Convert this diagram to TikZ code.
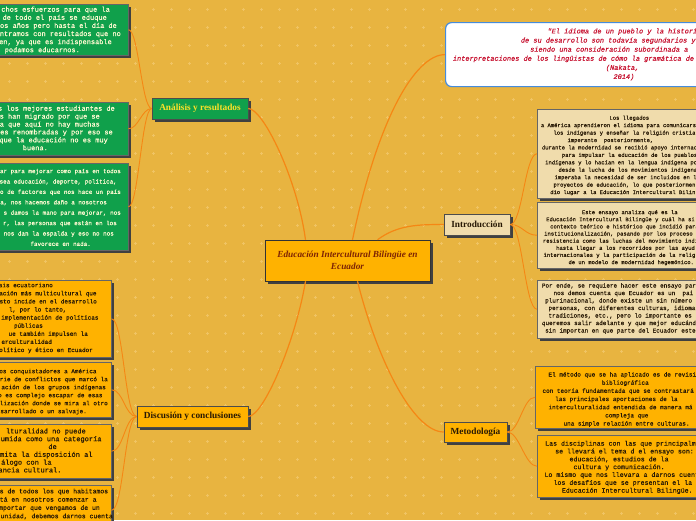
\documentclass[tikz,border=0pt]{standalone}
\usepackage{fontspec}
\setmainfont{Liberation Serif}
\newfontfamily\mono[FakeBold=0.5]{Liberation Mono}
\usetikzlibrary{shadows,calc}
\definecolor{bg}{RGB}{232,180,64}
\definecolor{bgdot}{RGB}{240,196,100}
\definecolor{lk}{RGB}{245,135,20}
\definecolor{gfill}{RGB}{16,160,75}
\definecolor{gtext}{RGB}{255,250,210}
\definecolor{ofill}{RGB}{255,178,0}
\definecolor{bfill}{RGB}{240,220,172}
\definecolor{dtext}{RGB}{40,25,5}
\definecolor{qred}{RGB}{200,20,50}
\definecolor{qblue}{RGB}{70,140,220}
\definecolor{ctext}{RGB}{125,35,5}
\definecolor{ytext}{RGB}{255,225,40}
\newcounter{tlc}
\newcommand\tE[4]{\stepcounter{tlc}\node[#1,anchor=base east] (t\arabic{tlc}) at (#2,#3) {#4};}
\newcommand\tW[4]{\stepcounter{tlc}\node[#1,anchor=base west] (t\arabic{tlc}) at (#2,#3) {#4};}
\begin{document}
\begin{tikzpicture}[x=1pt,y=-1pt,
  con/.style={draw=lk,line width=1.2pt},
  shad/.style={drop shadow={shadow xshift=2.5pt,shadow yshift=-2.5pt,fill=black!75,opacity=1}},
  leaf/.style={rectangle,anchor=north west,inner sep=0pt,shad,line width=0.5pt},
  gbox/.style={leaf,fill=gfill,draw=black!60},
  obox/.style={leaf,fill=ofill,draw=black!60},
  bbox/.style={leaf,fill=bfill,draw=black!60},
  mt/.style={inner sep=0pt,font=\mono\fontsize{#1}{#1}\selectfont},
  qt/.style={inner sep=0pt,text=qred,font=\mono\itshape\fontsize{6.93}{6.93}\selectfont},
  branch/.style={rectangle,inner sep=0pt,shad,draw=black!70,line width=0.5pt,font=\bfseries\fontsize{9.3}{11}\selectfont},
]
\clip (0,0) rectangle (696,520);
\fill[bg] (0,0) rectangle (696,520);
\foreach \x in {9,27,...,696} \foreach \y in {9,27,...,520}
  {\draw[bgdot,line width=0.5pt] (\x-1.5,\y)--(\x+1.5,\y) (\x,\y-1.5)--(\x,\y+1.5);}

% central and branch nodes
\node[branch,fill=ofill,draw=black!80,minimum width=165pt,minimum height=41pt,align=center,text=ctext,font=\bfseries\itshape\fontsize{9.3}{12}\selectfont] (c) at (347.5,260.5) {Educación Intercultural Bilingüe en\\Ecuador};
\node[branch,fill=gfill,text=ytext,minimum width=96pt,minimum height=21pt] (an) at (200,108.5) {Análisis y resultados};
\node[branch,fill=ofill,text=dtext,minimum width=111pt,minimum height=21pt] (dc) at (192.5,416.5) {Discusión y conclusiones};
\node[branch,fill=bfill,text=dtext,minimum width=66pt,minimum height=21pt] (in) at (477,224.5) {Introducción};
\node[branch,fill=ofill,text=dtext,minimum width=63pt,minimum height=20pt] (me) at (475.5,432) {Metodología};
\node[rectangle,rounded corners=6pt,draw=qblue,line width=1.2pt,fill=white,anchor=north west,minimum width=380pt,minimum height=64pt] (q) at (445,22) {};

% leaf boxes
\node[gbox,minimum width=160pt,minimum height=51pt] (g1) at (-32,4) {};
\node[gbox,minimum width=160pt,minimum height=53pt] (g2) at (-32,102) {};
\node[gbox,minimum width=132pt,minimum height=87pt] (g3) at (-4,163) {};
\node[obox,minimum width=141pt,minimum height=77pt] (oa) at (-30,280) {};
\node[obox,minimum width=141pt,minimum height=55pt] (ob) at (-30,362) {};
\node[obox,minimum width=141pt,minimum height=54pt] (oc) at (-30,424) {};
\node[obox,minimum width=141pt,minimum height=50pt] (od) at (-30,485) {};
\node[bbox,minimum width=200pt,minimum height=89pt] (i1) at (537,109) {};
\node[bbox,minimum width=200pt,minimum height=66pt] (i2) at (537,202) {};
\node[bbox,minimum width=200pt,minimum height=58pt] (i3) at (537,280) {};
\node[obox,minimum width=200pt,minimum height=62pt] (m1) at (535,366) {};
\node[obox,minimum width=200pt,minimum height=62pt] (m2) at (537,435) {};

% connectors
\draw[con] ($(c.north)+(-42,0)$) .. controls +(-8,-60) and +(15,0) .. (an.east);
\draw[con] ($(c.north)+(5,0)$) .. controls +(25,-120) and +(-30,0) .. (q.west);
\draw[con] ($(c.north)+(30,0)$) .. controls +(20,-15) and +(-25,0) .. (in.west);
\draw[con] ($(c.south)+(-42,0)$) .. controls +(-10,60) and +(15,0) .. (dc.east);
\draw[con] ($(c.south)+(10,0)$) .. controls +(20,80) and +(-30,0) .. (me.west);
\foreach \b in {g1,g2,g3} \draw[con,line width=0.9pt] (an.west) .. controls +(-10,0) and +(10,0) .. (\b.east);
\foreach \b in {oa,ob,oc,od} \draw[con,line width=0.9pt] (dc.west) .. controls +(-12,0) and +(12,0) .. (\b.east);
\foreach \b in {i1,i2,i3} \draw[con,line width=0.9pt] (in.east) .. controls +(12,0) and +(-12,0) .. (\b.west);
\foreach \b in {m1,m2} \draw[con,line width=0.9pt] (me.east) .. controls +(12,0) and +(-12,0) .. (\b.west);

% texts: green 1
\tE{mt=6.95,text=gtext}{110}{11.7}{chos esfuerzos para que la}
\tE{mt=6.95,text=gtext}{107}{19.8}{de todo el país se eduque}
\tE{mt=6.95,text=gtext}{117}{27.9}{os años pero hasta el día de}
\tE{mt=6.95,text=gtext}{121}{36.0}{ntramos con resultados que no}
\tE{mt=6.95,text=gtext}{112}{44.1}{en, ya que es indispensable}
\tE{mt=6.95,text=gtext}{80}{52.2}{s podamos educarnos.}
% green 2
\tE{mt=6.95,text=gtext}{115}{110.7}{s los mejores estudiantes de}
\tE{mt=6.95,text=gtext}{100}{118.6}{s han migrado por que se}
\tE{mt=6.95,text=gtext}{100}{126.5}{a que aquí no hay muchas}
\tE{mt=6.95,text=gtext}{113}{134.4}{es renombradas y por eso se}
\tE{mt=6.95,text=gtext}{108}{142.3}{que la educación no es muy}
\tE{mt=6.95,text=gtext}{48}{150.2}{buena.}
% green 3
\tE{mt=5.92,text=gtext}{121}{173.1}{ar para mejorar como país en todos}
\tE{mt=5.92,text=gtext}{117}{183.5}{sea educación, deporte, política,}
\tE{mt=5.92,text=gtext}{121}{193.9}{o de factores que nos hace un país}
\tE{mt=5.92,text=gtext}{107}{204.3}{ta, nos hacemos daño a nosotros}
\tE{mt=5.92,text=gtext}{121}{214.7}{s damos la mano para mejorar, nos}
\tE{mt=5.92,text=gtext}{117}{225.1}{r, las personas que están en los}
\tE{mt=5.92,text=gtext}{114}{235.5}{nos dan la espalda y eso no nos}
\tE{mt=5.92,text=gtext}{91}{245.9}{favorece en nada.}
% orange A
\tE{mt=6,text=dtext}{53}{287.2}{ais ecuatoriano}
\tE{mt=6,text=dtext}{96.7}{295.3}{ación más multicultural que}
\tE{mt=6,text=dtext}{97}{303.4}{sto incide en el desarrollo}
\tE{mt=6,text=dtext}{66.7}{311.5}{l, por lo tanto,}
\tE{mt=6,text=dtext}{98.7}{319.6}{implementación de políticas}
\tE{mt=6,text=dtext}{43}{327.7}{públicas}
\tE{mt=6,text=dtext}{88}{335.8}{ue también impulsen la}
\tE{mt=6,text=dtext}{52}{343.9}{erculturalidad}
\tE{mt=6,text=dtext}{93}{352.0}{olítico y ético en Ecuador}
% orange B
\tE{mt=6,text=dtext}{96.7}{373.2}{os conquistadores a América}
\tE{mt=6,text=dtext}{108}{381.2}{rie de conflictos que marcó la}
\tE{mt=6,text=dtext}{106}{389.2}{ación de los grupos indígenas}
\tE{mt=6,text=dtext}{102.7}{397.2}{o es complejo escapar de esas}
\tE{mt=6,text=dtext}{108}{405.2}{lización donde se mira al otro}
\tE{mt=6,text=dtext}{87}{413.2}{sarrollado o un salvaje.}
% orange C
\tE{mt=7,text=dtext}{86}{433.4}{lturalidad no puede}
\tE{mt=7,text=dtext}{101.7}{441.2}{umida como una categoría}
\tE{mt=7,text=dtext}{57}{449.0}{de}
\tE{mt=7,text=dtext}{92.7}{456.8}{mita la disposición al}
\tE{mt=7,text=dtext}{51.7}{464.6}{álogo con la}
\tE{mt=7,text=dtext}{61.7}{472.4}{ancia cultural.}
% orange D
\tE{mt=6.45,text=dtext}{108.3}{493.3}{s de todos los que habitamos}
\tE{mt=6.45,text=dtext}{96.7}{501.6}{stá en nosotros comenzar a}
\tE{mt=6.45,text=dtext}{100}{509.9}{mportar que vengamos de un}
\tE{mt=6.45,text=dtext}{113}{518.2}{unidad, debemos darnos cuenta}
% quote
\tW{qt}{547.3}{33.4}{"El idioma de un pueblo y la histori}
\tW{qt}{520.7}{42.5}{de su desarrollo son todavía segundarios y}
\tW{qt}{530}{51.6}{siendo una consideración subordinada a}
\tW{qt}{452.7}{60.7}{interpretaciones de los lingüistas de cómo la gramática de}
\tW{qt}{605.7}{69.8}{(Nakata,}
\tW{qt}{613.3}{78.9}{2014)}
% intro 1
\tW{mt=5.5,text=dtext}{609.3}{119.7}{Los llegados}
\tW{mt=5.5,text=dtext}{540.7}{127.1}{a América aprendieron el idioma para comunicars}
\tW{mt=5.5,text=dtext}{553.3}{134.6}{los indígenas y enseñar la religión cristia}
\tW{mt=5.5,text=dtext}{567.3}{142.0}{imperante\ \ posteriormente,}
\tW{mt=5.5,text=dtext}{541.7}{149.4}{durante la modernidad se recibió apoyo internac}
\tW{mt=5.5,text=dtext}{561.7}{156.9}{para impulsar la educación de los pueblos}
\tW{mt=5.5,text=dtext}{545}{164.3}{indígenas y lo hacían en la lengua indígena po}
\tW{mt=5.5,text=dtext}{558.3}{171.7}{desde la lucha de los movimientos indígena}
\tW{mt=5.5,text=dtext}{554.3}{179.2}{imperaba la necesidad de ser incluidos en l}
\tW{mt=5.5,text=dtext}{553.3}{186.6}{proyectos de educación, lo que posteriormen}
\tW{mt=5.5,text=dtext}{550}{194.0}{dio lugar a la Educación Intercultural Bilin}
% intro 2
\tW{mt=5.5,text=dtext}{581.7}{214.1}{Este ensayo analiza qué es la}
\tW{mt=5.5,text=dtext}{546}{221.2}{Educación Intercultural Bilingüe y cuál ha si}
\tW{mt=5.5,text=dtext}{550}{228.4}{contexto teórico e histórico que incidió para}
\tW{mt=5.5,text=dtext}{544}{235.5}{institucionalización, pasando por los proceso}
\tW{mt=5.5,text=dtext}{542.7}{242.7}{resistencia como las luchas del movimiento indí}
\tW{mt=5.5,text=dtext}{556}{249.8}{hasta llegar a los recorridos por las ayud}
\tW{mt=5.5,text=dtext}{543.3}{256.9}{internacionales y la participación de la relig}
\tW{mt=5.5,text=dtext}{568.3}{264.1}{de un modelo de modernidad hegemónico.}
% intro 3
\tW{mt=5.97,text=dtext}{541.7}{287.5}{Por ende, se requiere hacer este ensayo par}
\tW{mt=5.97,text=dtext}{553.3}{295.0}{nos demos cuenta que Ecuador es un\ \ pai}
\tW{mt=5.97,text=dtext}{545}{302.5}{plurinacional, donde existe un sin número}
\tW{mt=5.97,text=dtext}{548.3}{310.0}{personas, con diferentes culturas, idioma}
\tW{mt=5.97,text=dtext}{548.3}{317.5}{tradiciones, etc., pero lo importante es}
\tW{mt=5.97,text=dtext}{541.7}{325.0}{queremos salir adelante y que mejor educánd}
\tW{mt=5.97,text=dtext}{545}{332.5}{sin importan en que parte del Ecuador este}
% metodo 1
\tW{mt=6,text=dtext}{548.3}{376.5}{El método que se ha aplicado es de revisi}
\tW{mt=6,text=dtext}{601.7}{384.7}{bibliográfica}
\tW{mt=6,text=dtext}{542.3}{392.8}{con teoría fundamentada que se contrastará}
\tW{mt=6,text=dtext}{555}{401.0}{las principales aportaciones de la}
\tW{mt=6,text=dtext}{548.3}{409.2}{interculturalidad entendida de manera má}
\tW{mt=6,text=dtext}{605}{417.4}{compleja que}
\tW{mt=6,text=dtext}{563.3}{425.5}{una simple relación entre culturas.}
% metodo 2
\tW{mt=6.6,text=dtext}{545}{445.6}{Las disciplinas con las que principalme}
\tW{mt=6.6,text=dtext}{555}{453.4}{se llevará el tema d el ensayo son:}
\tW{mt=6.6,text=dtext}{569.3}{461.3}{educación, estudios de la}
\tW{mt=6.6,text=dtext}{573.3}{469.1}{cultura y comunicación.}
\tW{mt=6.6,text=dtext}{544.3}{476.9}{Lo mismo que nos llevara a darnos cuent}
\tW{mt=6.6,text=dtext}{553.3}{484.8}{los desafíos que se presentan el la}
\tW{mt=6.6,text=dtext}{561.7}{492.6}{Educación Intercultural Bilingüe.}
\end{tikzpicture}
\end{document}
